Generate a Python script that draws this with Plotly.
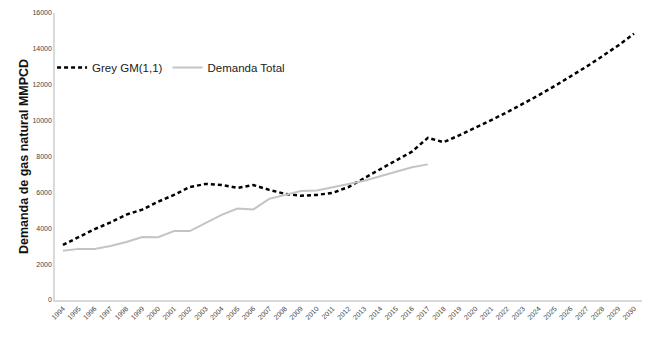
import plotly.graph_objects as go

years = list(range(1994, 2031))
grey_gm = [3070, 3500, 3950, 4330, 4760, 5040, 5480, 5860, 6300, 6470,
           6410, 6250, 6410, 6140, 5920, 5810, 5860, 5970, 6300, 6800,
           7290, 7780, 8270, 9040, 8800, 9190, 9600, 10030, 10470, 10940,
           11420, 11930, 12460, 13010, 13590, 14190, 14850]
demanda_years = list(range(1994, 2018))
demanda_total = [2740, 2850, 2850, 3010, 3230, 3510, 3500, 3840, 3840, 4280,
                 4750, 5100, 5050, 5640, 5860, 6080, 6100, 6300, 6470, 6650,
                 6900, 7120, 7400, 7560]
y_ticks = list(range(0, 16001, 2000))

fig = go.Figure()
fig.add_trace(go.Scatter(x=years, y=grey_gm, mode="lines", name="Grey GM(1,1)",
                         line=dict(color="black", width=2.5, dash="4px,3px")))
fig.add_trace(go.Scatter(x=demanda_years, y=demanda_total, mode="lines", name="Demanda Total",
                         line=dict(color="#c4c4c4", width=2)))

fig.update_layout(
    width=642, height=341,
    margin=dict(l=47, r=8, t=5, b=49, autoexpand=False),
    paper_bgcolor="white", plot_bgcolor="white",
    font=dict(family="Liberation Sans, Arial, sans-serif", color="#333"),
    showlegend=True,
    legend=dict(orientation="h", x=-0.005, y=0.81, xanchor="left", yanchor="middle",
                font=dict(size=11.5, color="#222"), bgcolor="rgba(0,0,0,0)",
                itemwidth=30, tracegroupgap=0),
    xaxis=dict(range=[1993.5, 2030.5], tickmode="array", tickvals=years,
               ticktext=[str(y) for y in years], tickangle=-45, automargin=False,
               tickfont=dict(size=7, color="#444"), showgrid=False,
               showline=True, linecolor="#d9d9d9", linewidth=1.5, ticks="", zeroline=False),
    yaxis=dict(range=[0, 16000], tickmode="array", tickvals=y_ticks, automargin=False,
               ticktext=[str(v) for v in y_ticks], tickfont=dict(size=7, color="#444"),
               showgrid=False, showline=True, linecolor="#d9d9d9", linewidth=1.5,
               ticks="", zeroline=False,
               title=dict(text="<b>Demanda de gas natural MMPCD</b>",
                          font=dict(size=12.5, color="#111"), standoff=1)),
)

fig.write_html("out.html")
